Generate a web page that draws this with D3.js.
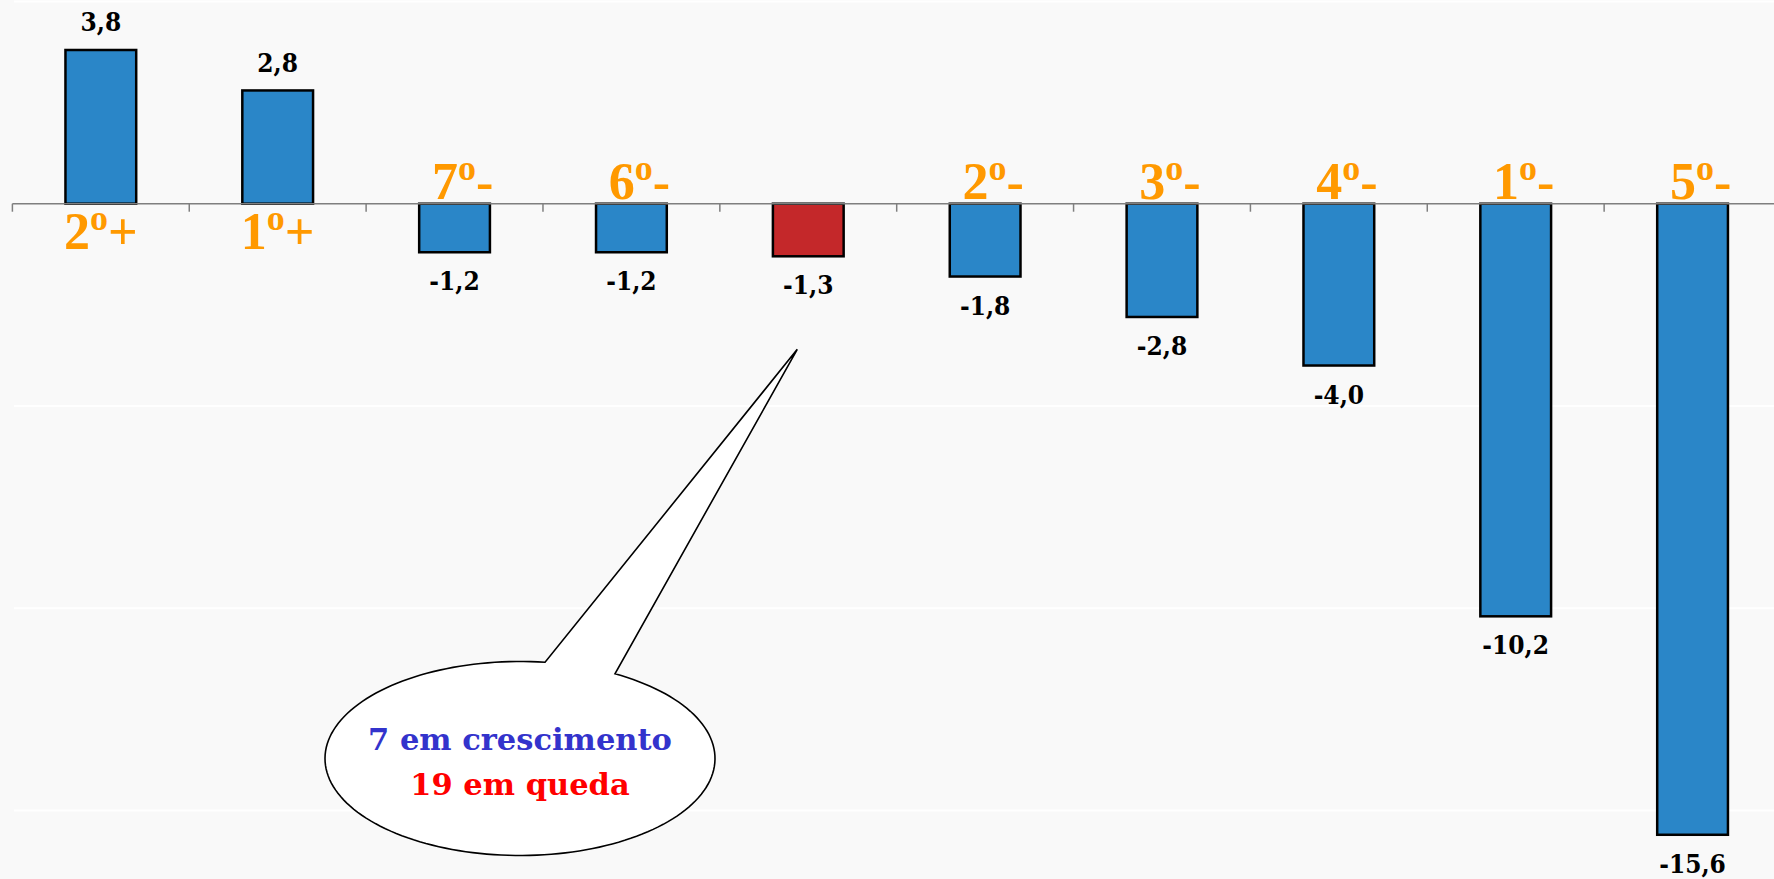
<!DOCTYPE html>
<html>
<head>
<meta charset="utf-8">
<script src="https://cdn.jsdelivr.net/npm/d3@7"></script>
<style>
  html, body { margin: 0; padding: 0; background: #f9f9f9; }
  svg { display: block; }
</style>
</head>
<body>
<svg id="chart" width="1774" height="879"></svg>
<script>
// ---- data ----
const categories = ["2º+", "1º+", "7º-", "6º-", "", "2º-", "3º-", "4º-", "1º-", "5º-"];
const values = [3.8, 2.8, -1.2, -1.2, -1.3, -1.8, -2.8, -4.0, -10.2, -15.6];
const highlightIndex = 4;
const gridValues = [5, -5, -10, -15];
const calloutLines = ["7 em crescimento", "19 em queda"];

// ---- layout ----
const W = 1774, H = 879;
const svg = d3.select("#chart");

const x = d3.scaleBand()
  .domain(d3.range(categories.length))
  .range([12.4, 1781])
  .paddingInner(0.6)
  .paddingOuter(0.3);

const y = d3.scaleLinear().domain([5, -15]).range([1.45, 810.5]);

const locale = d3.formatLocale({decimal: ",", thousands: ".", grouping: [3], currency: ["", ""], minus: "-"});
const fmt = locale.format(".1f");

svg.append("rect").attr("width", W).attr("height", H).attr("fill", "#f9f9f9");

// gridlines
svg.append("g").selectAll("line").data(gridValues).join("line")
  .attr("x1", 14).attr("x2", W)
  .attr("y1", d => y(d)).attr("y2", d => y(d))
  .attr("stroke", "#ffffff").attr("stroke-width", 2);

// bars
svg.append("g").selectAll("rect").data(values).join("rect")
  .attr("x", (d, i) => x(i))
  .attr("width", x.bandwidth())
  .attr("y", d => Math.min(y(d), y(0)))
  .attr("height", d => Math.abs(y(d) - y(0)))
  .attr("fill", (d, i) => i === highlightIndex ? "#c4282a" : "#2a86c8")
  .attr("stroke", "#000")
  .attr("stroke-width", 2.5);

// axis at zero
const step = x.step();
const boundaries = d3.range(categories.length + 1).map(i => x.range()[0] + i * step);
const axisG = svg.append("g");
axisG.append("line")
  .attr("x1", 12.4).attr("x2", W)
  .attr("y1", y(0)).attr("y2", y(0))
  .attr("stroke", "#7f7f7f").attr("stroke-width", 1.5);
axisG.selectAll("line.tick").data(boundaries).join("line")
  .attr("class", "tick")
  .attr("x1", d => d).attr("x2", d => d)
  .attr("y1", y(0)).attr("y2", y(0) + 8)
  .attr("stroke", "#7f7f7f").attr("stroke-width", 1.5);

// value labels
svg.append("g").selectAll("text").data(values).join("text")
  .attr("x", (d, i) => x(i) + x.bandwidth() / 2)
  .attr("y", d => d >= 0 ? y(d) - 18.5 : y(d) + 38)
  .attr("text-anchor", "middle")
  .attr("font-family", "DejaVu Serif Condensed, DejaVu Serif")
  .attr("font-stretch", "condensed")
  .attr("font-weight", "bold")
  .attr("font-size", 26)
  .attr("fill", "#000")
  .text(d => fmt(d));

// category labels (orange ranks)
const catG = svg.append("g").selectAll("text").data(categories).join("text")
  .attr("x", (d, i) => x(i) + x.bandwidth() / 2 + (values[i] < 0 ? 8 : 0))
  .attr("y", (d, i) => values[i] >= 0 ? y(0) + 45 : y(0) - 5)
  .attr("text-anchor", "middle")
  .attr("font-family", "Liberation Serif")
  .attr("font-weight", "bold")
  .attr("font-size", 52)
  .attr("fill", "#ff9900");
catG.each(function(d) {
  const t = d3.select(this);
  const m = d.match(/^(\d+)º(.*)$/);
  if (!m) { t.text(d); return; }
  t.append("tspan").text(m[1]);
  t.append("tspan").attr("font-size", 36).attr("dy", -18.5).text("o");
  t.append("tspan").attr("dy", 18.5).text(m[2]);
});

// callout bubble
const tipX = x(highlightIndex) + x.bandwidth() / 2 - 11;
const tipY = y(-3.6);
const cx = 520, cy = 758.5, rx = 195, ry = 97;
const a1 = -1.442, a2 = -1.062; // angles of tail base on ellipse
const p2 = [cx + rx * Math.cos(a2), cy + ry * Math.sin(a2)];
const path = d3.path();
path.moveTo(p2[0], p2[1]);
const steps = 160;
for (let k = 1; k <= steps; k++) {
  const a = a2 + (2 * Math.PI - (a2 - a1)) * k / steps;
  path.lineTo(cx + rx * Math.cos(a), cy + ry * Math.sin(a));
}
path.lineTo(tipX, tipY);
path.closePath();
svg.append("path")
  .attr("d", path.toString())
  .attr("fill", "#ffffff")
  .attr("stroke", "#000")
  .attr("stroke-width", 1.6)
  .attr("stroke-linejoin", "miter");

svg.append("g").selectAll("text").data(calloutLines).join("text")
  .attr("x", cx)
  .attr("y", (d, i) => 750 + i * 45)
  .attr("text-anchor", "middle")
  .attr("font-family", "DejaVu Serif")
  .attr("font-weight", "bold")
  .attr("font-size", 30.5)
  .attr("fill", (d, i) => i === 0 ? "#3333cc" : "#ff0000")
  .text(d => d);
</script>
</body>
</html>
